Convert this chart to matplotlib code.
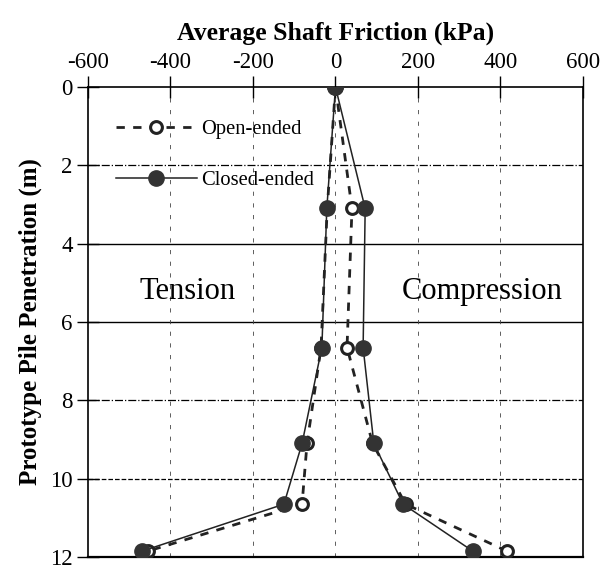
import numpy as np
import matplotlib.pyplot as plt
from matplotlib.lines import Line2D

plt.rcParams['font.family'] = ['Liberation Serif', 'DejaVu Serif']
plt.rcParams['axes.unicode_minus'] = False

# Depth of the measurement points (m)
depth = [0, 3.1, 6.65, 9.1, 10.65, 11.85]

# Open-ended pile: tension branch and compression branch (kPa)
open_tension = [0, -20, -35, -69, -81, -455]
open_compression = [0, 40, 28, 90, 170, 416]

# Closed-ended pile
closed_tension = [0, -21, -33, -81, -125, -469]
closed_compression = [0, 72, 67, 93, 164, 333]

x_ticks = [-600, -400, -200, 0, 200, 400, 600]
y_ticks = [0, 2, 4, 6, 8, 10, 12]

fig = plt.figure(figsize=(6.01, 5.69), dpi=100)
ax = fig.add_axes([0.1464, 0.021, 0.8236, 0.826])

# grid, drawn roughly like the scanned original
ax.axhline(2, color='k', lw=0.9, ls='-.', zorder=0)
ax.axhline(4, color='k', lw=1.0, zorder=0)
ax.axhline(6, color='k', lw=1.0, zorder=0)
ax.axhline(8, color='k', lw=0.9, ls='-.', zorder=0)
ax.axhline(10, color='k', lw=0.9, ls='--', zorder=0)
for xv in [-400, -200, 0, 200, 400]:
    ax.axvline(xv, color='#444444', lw=0.6, ls=(0, (5, 9)), zorder=0)

ms_closed = 11
ms_open = 8.5
for xs in (open_tension, open_compression):
    ax.plot(xs, depth, ls=(0, (3, 3)), color='#222222', lw=2.0, marker='o',
            ms=ms_open, mfc='white', mec='#222222', mew=2.2, zorder=3)
for xs in (closed_tension, closed_compression):
    ax.plot(xs, depth, '-', color='#222222', lw=1.1, marker='o',
            ms=ms_closed, mfc='#333333', mec='#333333', zorder=4)

ax.set_xlim(-600, 600)
ax.set_ylim(12, 0)
ax.set_xticks(x_ticks)
ax.set_yticks(y_ticks)
ax.xaxis.tick_top()
ax.xaxis.set_label_position('top')
ax.tick_params(axis='both', direction='inout', length=16, width=1.0, labelsize=16.5)
ax.tick_params(axis='x', pad=2)
ax.tick_params(axis='y', pad=3)
for sp in ax.spines.values():
    sp.set_linewidth(1.2)
ax.spines['bottom'].set_linewidth(1.6)

ax.set_xlabel('Average Shaft Friction (kPa)', fontsize=18.5, fontweight='bold', labelpad=9)
ax.set_ylabel('Prototype Pile Penetration (m)', fontsize=18, fontweight='bold', labelpad=6)

ax.text(-358, 5.23, 'Tension', fontsize=22, ha='center', va='center')
ax.text(355, 5.23, 'Compression', fontsize=22, ha='center', va='center')

handles = [
    Line2D([], [], ls=(0, (3, 3)), color='#222222', lw=2.0, marker='o', ms=ms_open,
           mfc='white', mec='#222222', mew=2.2),
    Line2D([], [], ls='-', color='#222222', lw=1.1, marker='o', ms=ms_closed,
           mfc='#333333', mec='#333333'),
]
ax.legend(handles, ['Open-ended', 'Closed-ended'], loc='upper left',
          bbox_to_anchor=(0.02, 0.97), frameon=False, fontsize=14.8,
          handlelength=3.9, handletextpad=0.2, labelspacing=1.55)

fig.savefig('out.png', dpi=100)
